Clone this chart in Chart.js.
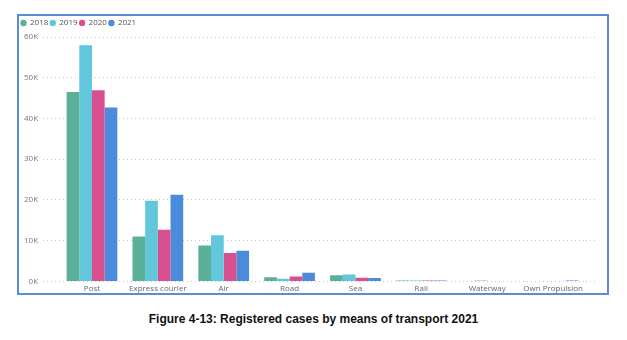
<!DOCTYPE html>
<html>
<head>
<meta charset="utf-8">
<script src="https://cdn.jsdelivr.net/npm/chart.js@4"></script>
<style>
  body { margin: 0; background: #fff; width: 627px; height: 340px; position: relative; font-family: "Liberation Sans", Arial, sans-serif; }
  #box { position: absolute; left: 17px; top: 14px; width: 588px; height: 277px; border: 2px solid #5b8cd6; }
  #cases { position: absolute; left: 16px; top: 14px; }
  #caption { position: absolute; left: 0; width: 627px; top: 312px; text-align: center; font-weight: bold; font-size: 12px; color: #111; }
</style>
</head>
<body>
<div id="box"></div>
<canvas id="cases" width="591" height="283"></canvas>
<div id="caption">Figure 4-13: Registered cases by means of transport 2021</div>
<script>
// categories and series (counts)
const transport = ['Post', 'Express courier', 'Air', 'Road', 'Sea', 'Rail', 'Waterway', 'Own Propulsion'];
const years = ['2018', '2019', '2020', '2021'];
const cases2018 = [46500, 11000, 8800, 1000, 1500, 200, 0, 0];
const cases2019 = [58000, 19800, 11300, 650, 1700, 200, 200, 0];
const cases2020 = [46900, 12700, 7000, 1200, 900, 200, 0, 0];
const cases2021 = [42700, 21300, 7500, 2100, 850, 200, 0, 250];
const yTicks = [0, 10000, 20000, 30000, 40000, 50000, 60000];
const colors = ['#5bb09a', '#62c6dc', '#d8508f', '#4a8bdb'];

const series = [cases2018, cases2019, cases2020, cases2021];
const tickFont = { family: 'Open Sans', size: 8 };

var ctx = document.getElementById('cases').getContext('2d');
var myChart = new Chart(ctx, {
    type: 'bar',
    data: {
        labels: transport,
        datasets: years.map((y, i) => ({
            label: y,
            data: series[i],
            backgroundColor: colors[i],
            borderWidth: 0,
            categoryPercentage: 0.77,
            barPercentage: 1.0
        }))
    },
    options: {
        responsive: false,
        animation: false,
        layout: { padding: { left: 3, right: 10, top: 3, bottom: 0 } },
        plugins: {
            tooltip: { enabled: false },
            legend: {
                position: 'top',
                align: 'start',
                labels: {
                    usePointStyle: true,
                    pointStyle: 'circle',
                    boxWidth: 5,
                    boxHeight: 4.5,
                    padding: 2,
                    color: '#555',
                    font: { family: 'Open Sans', size: 8 }
                }
            }
        },
        scales: {
            x: {
                grid: { display: false, drawTicks: false },
                border: { display: false },
                ticks: { color: '#666', font: tickFont, padding: 3, maxRotation: 0, autoSkip: false }
            },
            y: {
                min: 0,
                max: 60000,
                afterBuildTicks: (axis) => { axis.ticks = yTicks.map(v => ({ value: v })); },
                grid: {
                    color: '#c8c8c8',
                    tickColor: '#c8c8c8',
                    tickLength: 16,
                    tickBorderDash: [1, 3]
                },
                border: { display: false, dash: [1, 3] },
                ticks: {
                    color: '#777',
                    font: tickFont,
                    padding: 5,
                    callback: (v) => (v / 1000) + 'K'
                }
            },
            yRight: {
                position: 'right',
                min: 0,
                max: 60000,
                afterBuildTicks: (axis) => { axis.ticks = yTicks.map(v => ({ value: v })); },
                grid: {
                    drawOnChartArea: false,
                    tickColor: '#c8c8c8',
                    tickLength: 11,
                    tickBorderDash: [1, 3]
                },
                border: { display: false },
                ticks: { display: false }
            }
        }
    }
});
</script>
</body>
</html>
